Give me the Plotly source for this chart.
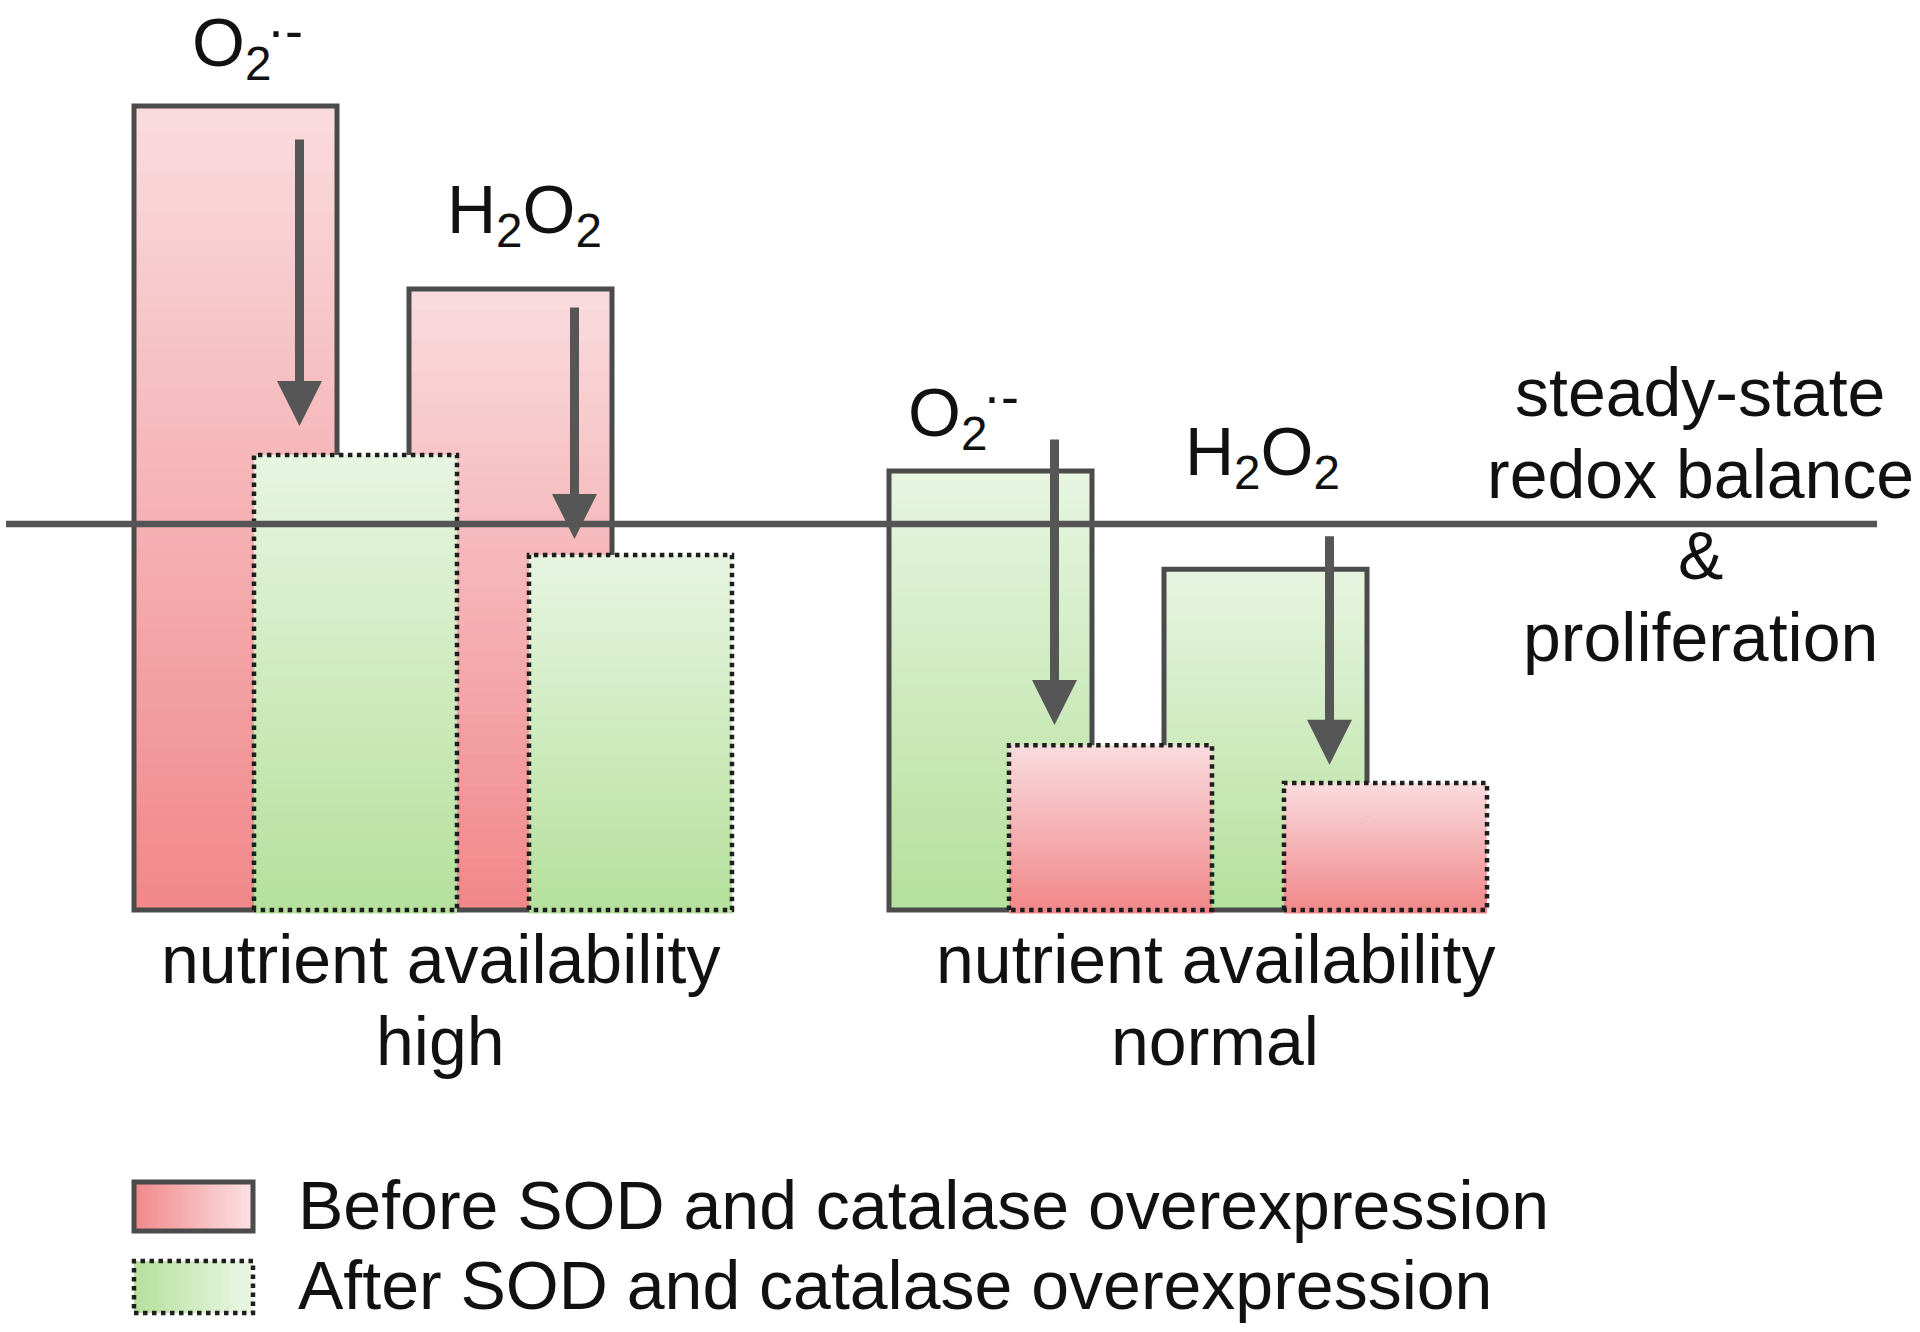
import plotly.graph_objects as go

# ---------------- data (levels relative to the steady-state level = 1) ----------------
group_names = ["high", "normal"]
species_labels = ["O<sub>2</sub>", "H<sub>2</sub>O<sub>2</sub>"]
species_sup = ["·-", ""]
before_high = [2.083, 1.609]      # O2·-, H2O2 before SOD and catalase overexpression
after_high = [1.179, 0.920]       # after overexpression
before_normal = [1.137, 0.883]
after_normal = [0.427, 0.329]
steady_state = 1.0
arrow_from_high = [2.000, 1.565]
arrow_to_high = [1.254, 0.961]
arrow_from_normal = [1.223, 0.972]
arrow_to_normal = [0.479, 0.376]
legend_labels = ["Before SOD and catalase overexpression",
                 "After SOD and catalase overexpression"]
steady_lines = ["steady-state", "redox balance", "&", "proliferation"]
group_lines = ["nutrient availability", "high", "normal"]

# ---------------- layout / style ----------------
W, H = 1920, 1332
PX_BOTTOM = 910.0     # pixel row of level 0
PX_UNIT = 386.0       # pixels per level unit
Y_TOP = PX_BOTTOM / PX_UNIT
Y_BOT = (PX_BOTTOM - H) / PX_UNIT

group_left = [134, 889]
bar_offsets = {"before": [0, 275], "after": [120, 395]}
bar_w = 203

RED_TOP, RED_BOT = (249, 220, 223), (241, 136, 138)
GRN_TOP, GRN_BOT = (231, 245, 225), (181, 224, 156)
EDGE = "#4b4b4b"
DOT = "#1e1e1e"
ARROW = "#565656"
FONT = "Arial, Liberation Sans, sans-serif"
FS = 68
TXT = "#111111"
NSEG = 60


def lerp(c1, c2, t):
    return "rgb(%d,%d,%d)" % tuple(round(a + (b - a) * t) for a, b in zip(c1, c2))


def py(p):  # pixel row -> paper
    return 1 - p / H


fig = go.Figure()


def add_fill(cx, h, top_c, bot_c, under=0.0):
    bases, heights, cols = [], [], []
    for i in range(NSEG):
        b = h * i / NSEG
        seg = h / NSEG
        if i < NSEG - 1:
            seg *= 1.35
        if i == 0:
            b -= under
            seg += under
        bases.append(b)
        heights.append(seg)
        cols.append(lerp(bot_c, top_c, (i + 0.5) / NSEG))
    fig.add_trace(go.Bar(x=[cx] * NSEG, y=heights, base=bases, width=[bar_w] * NSEG,
                         marker=dict(color=cols, line=dict(width=0)),
                         hoverinfo="skip", showlegend=False))


def add_solid_outline(cx, h):
    fig.add_trace(go.Bar(x=[cx], y=[h], base=[0], width=[bar_w],
                         marker=dict(color="rgba(0,0,0,0)", line=dict(color=EDGE, width=5)),
                         hoverinfo="skip", showlegend=False))


def add_dotted_outline(cx, h):
    l, r = cx - bar_w / 2, cx + bar_w / 2
    fig.add_trace(go.Scatter(x=[l, l, r, r, l], y=[0, h, h, 0, 0], mode="lines",
                             line=dict(color=DOT, width=4.5, dash="dot"),
                             hoverinfo="skip", showlegend=False))


groups = [
    (before_high, after_high, (RED_TOP, RED_BOT), (GRN_TOP, GRN_BOT),
     arrow_from_high, arrow_to_high),
    (before_normal, after_normal, (GRN_TOP, GRN_BOT), (RED_TOP, RED_BOT),
     arrow_from_normal, arrow_to_normal),
]

annotations = []
dotted = []
for g, (bef, aft, bcol, acol, afrom, ato) in enumerate(groups):
    x0 = group_left[g]
    for k in range(2):
        cx = x0 + bar_offsets["before"][k] + bar_w / 2
        add_fill(cx, bef[k], *bcol)
        add_solid_outline(cx, bef[k])
    for k in range(2):
        cx = x0 + bar_offsets["after"][k] + bar_w / 2
        add_fill(cx, aft[k], *acol, under=3.5 / PX_UNIT)
        dotted.append((cx, aft[k]))
    # arrows in the overlap zone of before/after bars
    for k in range(2):
        ov_l = x0 + bar_offsets["after"][k]
        ov_r = x0 + bar_offsets["before"][k] + bar_w
        ax = (ov_l + ov_r) / 2 + 4
        annotations.append(dict(x=ax, y=ato[k], ax=ax, ay=afrom[k], xref="x", yref="y",
                                axref="x", ayref="y", text="", showarrow=True,
                                arrowhead=2, arrowwidth=9, arrowsize=1.0,
                                arrowcolor=ARROW, standoff=0))

for cx, h in dotted:
    add_dotted_outline(cx, h)

# steady-state line
fig.add_trace(go.Scatter(x=[6, 1877], y=[steady_state, steady_state], mode="lines",
                         line=dict(color="#555555", width=6.5),
                         hoverinfo="skip", showlegend=False))

# species labels: (left x px, centre y px) of formula, superscript centre y px
species_pos = [[(190, 47, 30), (445, 214, None)], [(906, 417, 396), (1183, 456, None)]]
for g in range(2):
    for k in range(2):
        x, yp, ys = species_pos[g][k]
        annotations.append(dict(x=x, y=py(yp), xref="x", yref="paper", text=species_labels[k],
                                showarrow=False, xanchor="left", yanchor="middle",
                                font=dict(family=FONT, size=FS, color=TXT)))
        if species_sup[k]:
            annotations.append(dict(x=x + 75, y=py(ys), xref="x", yref="paper",
                                    text=species_sup[k], showarrow=False, xanchor="left",
                                    yanchor="middle",
                                    font=dict(family=FONT, size=54, color=TXT)))

# group labels
group_cx = [440, 1215]
for g in range(2):
    annotations.append(dict(x=group_cx[g], y=py(959), xref="x", yref="paper",
                            text=group_lines[0], showarrow=False, xanchor="center",
                            yanchor="middle", font=dict(family=FONT, size=FS, color=TXT)))
    annotations.append(dict(x=group_cx[g], y=py(1041), xref="x", yref="paper",
                            text=group_lines[1 + g], showarrow=False, xanchor="center",
                            yanchor="middle", font=dict(family=FONT, size=FS, color=TXT)))

# steady-state text
for i, t in enumerate(steady_lines):
    annotations.append(dict(x=1700, y=py(392 + 81.5 * i), xref="x", yref="paper", text=t,
                            showarrow=False, xanchor="center", yanchor="middle",
                            font=dict(family=FONT, size=FS, color=TXT)))

# legend
shapes = []
leg_boxes = [(1182, 1231), (1261, 1313)]
leg_cols = [(RED_BOT, (251, 226, 228)), (GRN_BOT, (235, 247, 230))]
nstrip = 40
for j, (t, b) in enumerate(leg_boxes):
    l, r = 134, 253
    for i in range(nstrip):
        sx0 = l + (r - l) * i / nstrip
        sx1 = l + (r - l) * (i + 1.4) / nstrip if i < nstrip - 1 else r
        shapes.append(dict(type="rect", xref="x", yref="paper", x0=sx0, x1=sx1,
                           y0=py(b), y1=py(t), line=dict(width=0),
                           fillcolor=lerp(leg_cols[j][0], leg_cols[j][1], (i + 0.5) / nstrip)))
    shapes.append(dict(type="rect", xref="x", yref="paper", x0=l, x1=r, y0=py(b), y1=py(t),
                       line=dict(color=EDGE if j == 0 else DOT, width=5 if j == 0 else 4.5,
                                 dash="solid" if j == 0 else "dot"),
                       fillcolor="rgba(0,0,0,0)"))
    annotations.append(dict(x=296, y=py((t + b) / 2 - 2), xref="x", yref="paper",
                            text=legend_labels[j], showarrow=False, xanchor="left",
                            yanchor="middle", font=dict(family=FONT, size=FS, color=TXT)))

fig.update_layout(
    width=W, height=H, margin=dict(l=0, r=0, t=0, b=0),
    paper_bgcolor="white", plot_bgcolor="white", barmode="overlay",
    xaxis=dict(range=[0, W], visible=False, fixedrange=True),
    yaxis=dict(range=[Y_BOT, Y_TOP], visible=False, fixedrange=True),
    annotations=annotations, shapes=shapes, showlegend=False,
)

fig.write_html("out.html", config={"displayModeBar": False},
               post_script="document.body.style.margin='0';document.body.style.overflow='hidden';")
